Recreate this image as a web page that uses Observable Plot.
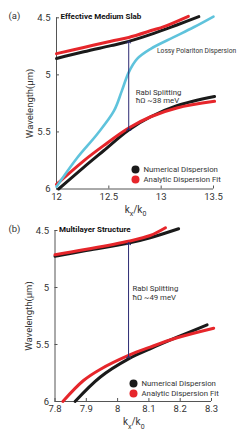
<!DOCTYPE html>
<html><head><meta charset="utf-8">
<script src="https://cdn.jsdelivr.net/npm/d3@7"></script>
<script src="https://cdn.jsdelivr.net/npm/@observablehq/plot@0.6"></script>
<style>
body{margin:0;background:#fff;}
#wrap{width:242px;height:436px;position:relative;}
#wrap svg{display:block;}
</style></head><body><div id="wrap"></div>
<script>
// ---------- Panel (a): Effective Medium Slab ----------
const aTicksX = [12, 12.5, 13, 13.5];
const aTicksY = [4.5, 5, 5.5, 6];
const aNumUpperK = [12.00, 12.26, 12.52, 12.69, 12.93, 13.15, 13.36];
const aNumUpperL = [4.857, 4.798, 4.744, 4.707, 4.637, 4.563, 4.490];
const aFitUpperK = [12.00, 12.26, 12.52, 12.69, 12.93, 13.02, 13.26];
const aFitUpperL = [4.814, 4.760, 4.705, 4.672, 4.605, 4.580, 4.487];
const aNumLowerK = [12.02, 12.26, 12.45, 12.69, 12.90, 13.15, 13.51];
const aNumLowerL = [6.00, 5.81, 5.665, 5.483, 5.367, 5.27, 5.19];
const aFitLowerK = [12.00, 12.26, 12.45, 12.69, 12.90, 13.15, 13.51];
const aFitLowerL = [5.96, 5.753, 5.62, 5.466, 5.367, 5.29, 5.232];
const aPolK = [12.00, 12.20, 12.39, 12.55, 12.625, 12.69, 12.77, 12.90, 13.12, 13.31, 13.50];
const aPolL = [5.98, 5.724, 5.518, 5.314, 5.138, 4.978, 4.86, 4.772, 4.67, 4.583, 4.489];
const aArrow = {k: 12.69, l1: 5.478, l2: 4.712};
const aNotes = [
  {k: 12.69, l: 5.153, text: "Rabi Splitting"},
  {k: 12.69, l: 5.228, text: "ħΩ ~38 meV"}
];
const aPolNote = {k: 12.96, l: 4.787, text: "Lossy Polariton Dispersion"};

// ---------- Panel (b): Multilayer Structure ----------
const bTicksX = [7.8, 7.9, 8, 8.1, 8.2, 8.3];
const bTicksY = [4.5, 5, 5.5, 6];
const bNumUpperK = [7.80, 7.891, 8.035, 8.104, 8.195];
const bNumUpperL = [4.726, 4.681, 4.611, 4.564, 4.485];
const bFitUpperK = [7.80, 7.891, 8.035, 8.104, 8.153];
const bFitUpperL = [4.712, 4.669, 4.594, 4.544, 4.476];
const bNumLowerK = [7.864, 7.944, 8.035, 8.104, 8.19, 8.286];
const bNumLowerL = [6.00, 5.787, 5.626, 5.538, 5.436, 5.327];
const bFitLowerK = [7.825, 7.891, 7.944, 8.035, 8.104, 8.19, 8.307];
const bFitLowerL = [6.00, 5.816, 5.719, 5.596, 5.523, 5.441, 5.357];
const bArrow = {k: 8.035, l1: 5.61, l2: 4.615};
const bNotes = [
  {k: 8.035, l: 5.009, text: "Rabi Splitting"},
  {k: 8.035, l: 5.088, text: "ħΩ ~49 meV"}
];

const legendLabels = ["Numerical Dispersion", "Analytic Dispersion Fit"];
const BLACK = "#1a1a1a", RED = "#e6262b", CYAN = "#5fc3dc", NAVY = "#2c2a73", AXIS = "#555";
const FONT = "Roboto, 'Open Sans', sans-serif";
const SMALL = 7.8;

const pts = (K, L) => K.map((k, i) => ({k, l: L[i]}));

function panel(cfg) {
  const m = cfg.margins;
  const marks = [
    Plot.ruleX([cfg.xDomain[0]], {stroke: AXIS, strokeWidth: 1}),
    Plot.ruleY([cfg.yDomain[1]], {stroke: AXIS, strokeWidth: 1}),
    Plot.axisX({ticks: cfg.ticksX, tickSize: -3, tickPadding: 7, tickFormat: d => String(d),
      fontSize: 9.5, fill: "#333", stroke: AXIS, label: null}),
    Plot.axisY({ticks: cfg.ticksY, tickSize: -3, tickPadding: 9, tickFormat: d => String(d),
      fontSize: 9.5, fill: "#333", stroke: AXIS, label: "Wavelength(μm)", labelAnchor: "center",
      labelOffset: 30, labelArrow: "none"}),
    Plot.line(pts(cfg.numUpperK, cfg.numUpperL), {x: "k", y: "l", stroke: BLACK, strokeWidth: 3, curve: "catmull-rom"}),
    Plot.line(pts(cfg.numLowerK, cfg.numLowerL), {x: "k", y: "l", stroke: BLACK, strokeWidth: 3, curve: "catmull-rom"}),
    Plot.line(pts(cfg.fitUpperK, cfg.fitUpperL), {x: "k", y: "l", stroke: RED, strokeWidth: 3, curve: "catmull-rom"}),
    Plot.line(pts(cfg.fitLowerK, cfg.fitLowerL), {x: "k", y: "l", stroke: RED, strokeWidth: 3, curve: "catmull-rom"}),
  ];
  if (cfg.polK) {
    marks.push(Plot.line(pts(cfg.polK, cfg.polL), {x: "k", y: "l", stroke: CYAN, strokeWidth: 2.6, curve: "catmull-rom"}));
    marks.push(Plot.text([cfg.polNote], {x: "k", y: "l", text: "text", textAnchor: "start", fontSize: 6.7,
      fill: "#333", fontFamily: FONT, letterSpacing: "-0.1px"}));
  }
  marks.push(
    Plot.link([cfg.arrow], {x1: "k", x2: "k", y1: "l1", y2: "l2", stroke: NAVY, strokeWidth: 1,
      markerStart: "arrow", markerEnd: "arrow"}),
    Plot.text(cfg.notes, {x: "k", y: "l", text: "text", dx: cfg.noteDx, textAnchor: "start", fontSize: SMALL, fill: "#333", fontFamily: FONT}),
    Plot.text([cfg.title], {frameAnchor: "top-left", dx: 4, dy: -1, lineAnchor: "middle", textAnchor: "start",
      fontSize: 8, fontWeight: "bold", fill: "#111", fontFamily: FONT, letterSpacing: "-0.2px"}),
    Plot.text([cfg.tag], {frameAnchor: "top-left", dx: -m.left + 8, dy: -2, lineAnchor: "middle",
      fontSize: 9.5, fill: "#333", fontFamily: FONT}),
    Plot.dot([0], {frameAnchor: "bottom-left", dx: cfg.legDx, dy: cfg.legDy[0], r: 4, fill: BLACK}),
    Plot.dot([0], {frameAnchor: "bottom-left", dx: cfg.legDx, dy: cfg.legDy[1], r: 4, fill: RED}),
    Plot.text([legendLabels[0]], {frameAnchor: "bottom-left", dx: cfg.legDx + 8, dy: cfg.legDy[0], textAnchor: "start",
      lineAnchor: "middle", fontSize: SMALL, fill: "#333", fontFamily: FONT}),
    Plot.text([legendLabels[1]], {frameAnchor: "bottom-left", dx: cfg.legDx + 8, dy: cfg.legDy[1], textAnchor: "start",
      lineAnchor: "middle", fontSize: SMALL, fill: "#333", fontFamily: FONT})
  );
  const svg = Plot.plot({
    width: 242, height: cfg.height,
    marginLeft: m.left, marginRight: m.right, marginTop: m.top, marginBottom: m.bottom,
    style: {fontFamily: FONT, background: "#fff", overflow: "visible"},
    x: {domain: cfg.xDomain},
    y: {domain: cfg.yDomain, reverse: true},
    marks
  });
  // x-axis label with subscripts: k_x / k_0
  const cx = (m.left + 242 - m.right) / 2 + 1;
  const t = d3.select(svg).append("text")
    .attr("x", cx).attr("y", cfg.height - m.bottom + 24)
    .attr("text-anchor", "middle").attr("font-size", 10).attr("fill", "#333")
    .attr("font-family", FONT);
  t.append("tspan").text("k");
  t.append("tspan").attr("dy", 3.5).attr("font-size", 7).text("x");
  t.append("tspan").attr("dy", -3.5).text("/k");
  t.append("tspan").attr("dy", 3.5).attr("font-size", 7).text("0");
  return svg;
}

const wrap = document.getElementById("wrap");
wrap.appendChild(panel({
  height: 214, margins: {left: 56, right: 29, top: 17.3, bottom: 25.5},
  xDomain: [12, 13.5], yDomain: [4.5, 6], ticksX: aTicksX, ticksY: aTicksY,
  numUpperK: aNumUpperK, numUpperL: aNumUpperL, fitUpperK: aFitUpperK, fitUpperL: aFitUpperL,
  numLowerK: aNumLowerK, numLowerL: aNumLowerL, fitLowerK: aFitLowerK, fitLowerL: aFitLowerL,
  polK: aPolK, polL: aPolL, polNote: aPolNote,
  arrow: aArrow, notes: aNotes, noteDx: 7,
  title: "Effective Medium Slab", tag: "(a)",
  legDx: 79, legDy: [-19.5, -9.5]
}));
wrap.appendChild(panel({
  height: 222, margins: {left: 54.5, right: 31, top: 16, bottom: 35},
  xDomain: [7.8, 8.3], yDomain: [4.5, 6], ticksX: bTicksX, ticksY: bTicksY,
  numUpperK: bNumUpperK, numUpperL: bNumUpperL, fitUpperK: bFitUpperK, fitUpperL: bFitUpperL,
  numLowerK: bNumLowerK, numLowerL: bNumLowerL, fitLowerK: bFitLowerK, fitLowerL: bFitLowerL,
  arrow: bArrow, notes: bNotes, noteDx: 4,
  title: "Multilayer Structure", tag: "(b)",
  legDx: 78.5, legDy: [-18, -8]
}));
</script></body></html>
